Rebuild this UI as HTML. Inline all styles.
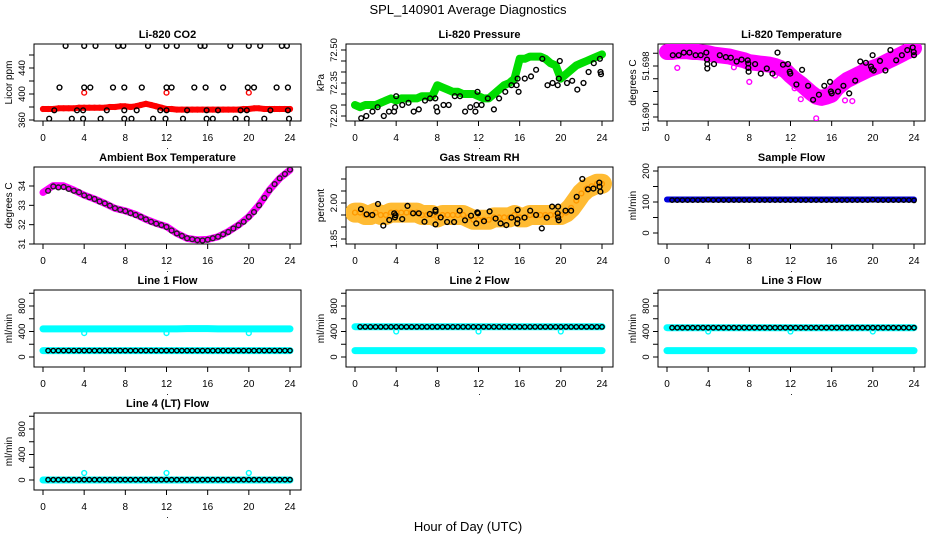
<!DOCTYPE html>
<html><head><meta charset="utf-8"><style>
html,body{margin:0;padding:0;background:#fff;}
svg{display:block;font-family:"Liberation Sans",sans-serif;}
</style></head><body>
<svg id="chart" width="936" height="540" viewBox="0 0 936 540" xmlns="http://www.w3.org/2000/svg">
<text x="468" y="14" text-anchor="middle" font-size="13">SPL_140901  Average Diagnostics</text>
<text x="468" y="531" text-anchor="middle" font-size="13">Hour of Day (UTC)</text>
</svg>
<script>
// ---- data ----
const halfHours = [0,0.5,1,1.5,2,2.5,3,3.5,4,4.5,5,5.5,6,6.5,7,7.5,8,8.5,9,9.5,10,10.5,11,11.5,12,12.5,13,13.5,14,14.5,15,15.5,16,16.5,17,17.5,18,18.5,19,19.5,20,20.5,21,21.5,22,22.5,23,23.5,24];
const xTicks = [0,4,8,12,16,20,24];

const co2Red = [377,377,377,378,378,378,378,379,379,379,379,379,379,380,380,381,381,380,381,383,385,383,381,379,377,377,376,376,376,376,376,376,376,376,376,376,376,376,376,377,377,378,378,377,377,377,377,377,377];
const co2OutT = [4,12,20];
const co2OutV = [402,402,402];
const co2BlackT = [2.2,4,5.1,7.3,7.8,10.2,12,13,15.3,15.7,18.2,20,21.1,23.2,23.7, 1.6,4,4.6,6.8,7.9,9.6,12,12.5,14.7,15.8,17.5,19.9,20.5,22.7,23.8, 1.1,3.3,3.9,6.2,7.9,9.1,11.4,12,14,15.9,17,19.2,19.8,22.1,23.8, 0.6,2.8,3.9,5.6,7.9,8.6,10.7,11.9,13.6,15.9,16.5,18.7,19.8,21.5,23.9];
const co2BlackV = [474,474,474,474,474,474,474,474,474,474,474,474,474,474,474, 410,410,410,410,410,410,410,410,410,410,410,410,410,410,410, 375,375,375,375,375,375,375,375,375,375,375,375,375,375,375, 362,362,362,362,362,362,362,362,362,362,362,362,362,362,362];

const presGreen = [72.25,72.24,72.25,72.25,72.25,72.26,72.27,72.28,72.27,72.28,72.28,72.28,72.28,72.29,72.29,72.29,72.34,72.33,72.32,72.31,72.31,72.30,72.30,72.30,72.29,72.28,72.28,72.30,72.32,72.34,72.35,72.37,72.46,72.46,72.47,72.47,72.47,72.46,72.44,72.43,72.37,72.39,72.41,72.43,72.44,72.45,72.46,72.47,72.48];
const presBlackT = [0.6,1.1,1.7,2.2,2.8,3.3,3.8,3.9,4,4.6,5.2,5.7,6.2,6.8,7.3,7.8,7.9,8,8.6,9.1,9.7,10.2,10.7,11.2,11.7,11.8,11.9,12.3,12.9,13.5,14,14.6,15.2,15.7,15.8,15.9,16.5,17.1,17.6,18.2,18.7,19.2,19.7,19.8,19.9,20.6,21.1,21.6,22.2,22.7,23.2,23.8,23.85,23.9];
const presBlackV = [72.19,72.20,72.22,72.24,72.20,72.22,72.22,72.24,72.29,72.25,72.26,72.22,72.23,72.27,72.28,72.28,72.24,72.22,72.25,72.25,72.29,72.29,72.22,72.24,72.22,72.25,72.31,72.25,72.28,72.23,72.28,72.31,72.34,72.34,72.37,72.31,72.37,72.38,72.41,72.46,72.34,72.35,72.34,72.37,72.45,72.35,72.36,72.32,72.35,72.40,72.44,72.46,72.40,72.39];

const tempPink = [51.7002,51.7002,51.7003,51.7003,51.7003,51.7002,51.7002,51.7001,51.7000,51.6998,51.6997,51.6996,51.6995,51.6993,51.6991,51.6989,51.6986,51.6985,51.6984,51.6983,51.6982,51.6980,51.6977,51.6973,51.6965,51.6958,51.6952,51.6945,51.6938,51.6932,51.6930,51.6932,51.6935,51.6945,51.6952,51.6958,51.6962,51.6966,51.6970,51.6974,51.6977,51.6980,51.6984,51.6988,51.6992,51.6996,51.7000,51.7004,51.7008];
const tempPinkOutT = [1.0,8.0,12.4,13.0,14.5,17.3,18.0,10.5,6.5];
const tempPinkOutV = [51.6977,51.6955,51.6945,51.6928,51.6898,51.6926,51.6925,51.6965,51.6978];
const tempBlackT = [0.56,1.14,1.63,2.19,2.78,3.27,3.82,3.89,3.92,3.92,4.57,5.13,5.71,6.20,6.76,7.25,7.84,7.90,7.90,7.93,8.56,9.11,9.70,10.25,10.74,11.27,11.76,11.92,11.98,12.57,13.13,13.71,14.20,14.76,15.28,15.84,15.93,16.0,16.62,17.14,17.70,18.29,18.78,19.33,19.82,19.92,19.98,20.08,20.70,21.22,21.71,22.27,22.82,23.35,23.87,23.97,24.0];
const tempBlackV = [51.6997,51.6997,51.7001,51.7001,51.6997,51.6997,51.7001,51.6990,51.6983,51.6976,51.6983,51.6997,51.6994,51.6993,51.6987,51.6990,51.6989,51.6984,51.6977,51.6971,51.6983,51.6968,51.6976,51.6968,51.7001,51.6982,51.6983,51.6971,51.6968,51.6951,51.6974,51.6949,51.6927,51.6935,51.6949,51.6955,51.6940,51.6937,51.6940,51.6949,51.6937,51.6957,51.6987,51.6985,51.6979,51.6975,51.6997,51.6973,51.6988,51.6973,51.7005,51.6989,51.6997,51.7005,51.7009,51.7002,51.6997];

const hourly = [0,1,2,3,4,5,6,7,8,9,10,11,12,13,14,15,16,17,18,19,20,21,22,23,24];
const ambPink = [33.67,34.02,34.01,33.79,33.53,33.33,33.10,32.84,32.71,32.53,32.28,32.07,31.90,31.55,31.29,31.21,31.24,31.38,31.64,31.98,32.41,33.02,33.79,34.40,34.83];
const ambBlack = [33.75,33.98,33.93,33.95,33.85,33.75,33.68,33.52,33.42,33.33,33.2,33.1,32.98,32.85,32.77,32.7,32.6,32.5,32.4,32.28,32.15,32.05,31.98,31.88,31.7,31.55,31.42,31.3,31.25,31.2,31.18,31.22,31.3,31.38,31.5,31.62,31.8,31.97,32.15,32.4,32.65,33.0,33.38,33.78,34.1,34.4,34.62,34.85];

const rhOrange = [1.96,1.96,1.95,1.95,1.96,1.95,1.95,1.96,1.96,1.96,1.96,1.96,1.96,1.95,1.95,1.95,1.94,1.95,1.95,1.95,1.95,1.95,1.94,1.93,1.93,1.93,1.93,1.94,1.94,1.94,1.94,1.95,1.94,1.94,1.95,1.95,1.95,1.95,1.95,1.95,1.95,1.96,1.98,2.01,2.04,2.06,2.07,2.08,2.08];
const rhBlackT = [0.58,1.13,1.68,2.23,2.75,3.33,3.81,3.88,3.94,4.59,5.10,5.65,6.20,6.75,7.27,7.82,7.82,7.82,8.33,8.95,9.63,10.17,10.69,11.27,11.79,11.88,11.95,12.53,13.08,13.66,14.15,14.70,15.21,15.76,15.80,15.80,16.47,17.02,17.60,18.15,18.64,19.15,19.70,19.73,19.79,19.73,20.45,21.00,21.54,22.09,22.64,23.16,23.74,23.77,23.84];
const rhBlackV = [1.974,1.953,1.950,1.996,1.906,1.929,1.957,1.940,1.949,1.933,1.988,1.957,1.957,1.922,1.954,1.911,1.964,1.971,1.940,1.921,1.921,1.968,1.928,1.947,1.915,1.961,1.957,1.924,1.965,1.935,1.915,1.908,1.939,1.915,1.932,1.971,1.939,1.968,1.950,1.894,1.939,1.985,1.957,1.940,1.928,1.985,1.968,1.968,2.026,2.100,2.057,2.060,2.085,2.068,2.047];

const sampleBlue = [108,108,108,108,108,108,108,108,108,108,108,108,108,108,108,108,108,108,108,108,108,108,108,108,108];
const sampleBlack = [106,106,106,106,106,106,106,107,106,106,106,106,106,106,106,106,106,106,106,106,106,106,106,106,106,106,106,106,106,106,106,106,106,106,106,106,106,106,106,107,106,106,106,106,106,106,106,105];

const line1CyanHi = [440,440,440,440,440,440,440,440,440,440,440,440,440,440,445,445,445,440,440,440,440,440,440,440,440];
const line1CyanLo = [100,100,100,100,100,100,100,100,100,100,100,100,100,100,100,100,100,100,100,100,100,100,100,100,100];
const line1Black = [100,100,100,100,100,100,100,100,100,100,100,100,100,100,100,100,100,100,100,100,100,100,100,100,100,100,100,100,100,100,100,100,100,100,100,100,100,100,100,100,100,100,100,100,100,100,100,100];
const line1OutV = [375,375,375];

const line2CyanHi = [475,475,475,475,475,475,475,475,475,475,475,475,475,475,475,475,475,475,475,475,475,475,475,475,475];
const line2CyanLo = [100,100,100,100,100,100,100,100,100,100,100,100,100,100,100,100,100,100,100,100,100,100,100,100,100];
const line2Black = [472,472,472,472,472,472,472,472,472,472,472,472,472,472,472,472,472,472,472,472,472,472,472,472,472,472,472,472,472,472,472,472,472,472,472,472,472,472,472,472,472,472,472,472,472,472,472,472];
const line2OutV = [400,400,400];

const line3CyanHi = [460,460,460,460,460,460,460,460,460,460,460,460,460,460,460,460,460,460,460,460,460,460,460,460,460];
const line3CyanLo = [100,100,100,100,100,100,100,100,100,100,100,100,100,100,100,100,100,100,100,100,100,100,100,100,100];
const line3Black = [460,460,460,460,460,460,460,460,460,460,460,460,460,460,460,460,460,460,460,460,460,460,460,460,460,460,460,460,460,460,460,460,460,460,460,460,460,460,460,460,460,460,460,460,460,460,460,460];
const line3OutV = [400,400,400];

const line4Cyan = [0,0,0,0,0,0,0,0,0,0,0,0,0,0,0,0,0,0,0,0,0,0,0,0,0];
const line4Black = [5,5,5,5,5,5,5,5,5,5,5,5,5,5,5,5,5,5,5,5,5,5,5,5,5,5,5,5,5,5,5,5,5,5,5,5,5,5,5,5,5,5,5,5,5,5,5,5];
const line4OutV = [110,110,110];

const blackHalfT = [0.5,1,1.5,2,2.5,3,3.5,4,4.5,5,5.5,6,6.5,7,7.5,8,8.5,9,9.5,10,10.5,11,11.5,12,12.5,13,13.5,14,14.5,15,15.5,16,16.5,17,17.5,18,18.5,19,19.5,20,20.5,21,21.5,22,22.5,23,23.5,24];

// ---- drawing ----
const NS = "http://www.w3.org/2000/svg";
const svg = document.getElementById('chart');
const colX = [34,346,658], rowY = [44,167,290,413], W = 267, H = 77;
function mk(tag, attrs, parent){ const e = document.createElementNS(NS, tag); for (const k in attrs) e.setAttribute(k, attrs[k]); (parent||svg).appendChild(e); return e; }

function panel(cfg){
  const g = mk('g', {});
  
  
  const x0 = colX[cfg.col], y0 = rowY[cfg.row];
  const xs = t => x0 + 9 + t / 24 * 247;
  const [v1, p1, v2, p2] = cfg.yref;
  const ys = v => y0 + p1 + (v - v1) / (v2 - v1) * (p2 - p1);
  const t = mk('text', {x: x0 + W/2, y: y0 - 6, 'text-anchor': 'middle', 'font-size': 11, 'font-weight': 'bold'}, g);
  t.textContent = cfg.title;
  
  
  const box = mk('rect', {x: x0, y: y0, width: W, height: H, fill: 'none', stroke: '#000', 'stroke-width': 1}, g);
  
  
  const xa = mk('g', {}, g);
  
  
  mk('line', {x1: xs(0), x2: xs(24), y1: y0+H, y2: y0+H, stroke: '#000'}, xa);
  xTicks.forEach(v => {
    mk('line', {x1: xs(v), x2: xs(v), y1: y0+H, y2: y0+H+5, stroke: '#000'}, xa);
    const l = mk('text', {x: xs(v), y: y0+H+20, 'text-anchor': 'middle', 'font-size': 10}, xa);
    l.textContent = v;
    
    
  });
  const dot = mk('text', {x: x0 + W/2, y: y0+H+28, 'text-anchor': 'middle', 'font-size': 9}, xa);
  dot.textContent = '.';
  const ya = mk('g', {}, g);
  
  
  mk('line', {x1: x0, x2: x0, y1: ys(cfg.yticks[0]), y2: ys(cfg.yticks[cfg.yticks.length-1]), stroke: '#000'}, ya);
  cfg.yticks.forEach(v => mk('line', {x1: x0-5, x2: x0, y1: ys(v), y2: ys(v), stroke: '#000'}, ya));
  cfg.ylabels.forEach(v => {
    const yy = ys(v);
    const l = mk('text', {x: 0, y: 0, transform: `translate(${x0-9},${yy}) rotate(-90)`, 'text-anchor': 'middle', 'font-size': 9.5}, ya);
    l.textContent = cfg.fmt ? cfg.fmt(v) : v;
    
    
  });
  const yl = mk('text', {x: 0, y: 0, transform: `translate(${x0-22},${y0+H/2}) rotate(-90)`, 'text-anchor': 'middle', 'font-size': 10}, g);
  yl.textContent = cfg.ylab;
  
  
  const clip = 'clip-' + cfg.id;
  const cp = mk('clipPath', {id: clip}, g);
  mk('rect', {x: x0, y: y0, width: W, height: H}, cp);
  const plot = mk('g', {'clip-path': `url(#${clip})`}, g);
  cfg.series.forEach(s => {
    const sg = mk('g', {}, plot);
    
    
    if (s.band) {
      const pts = s.t.map((tt, i) => xs(tt).toFixed(1) + ',' + ys(s.v[i]).toFixed(1)).join(' ');
      const pl = mk('polyline', {points: pts, fill: 'none', stroke: s.bandColor || s.color, 'stroke-width': s.band, 'stroke-linejoin': 'round', 'stroke-linecap': 'round'}, sg);
      
      
    }
    if (s.noPts) return;
    s.t.forEach((tt, i) => {
      const c = mk('circle', {cx: xs(tt).toFixed(1), cy: ys(s.v[i]).toFixed(1), r: s.r || 2.4, fill: 'none', stroke: s.color, 'stroke-width': s.sw || 1.4}, sg);
      
      
    });
  });
}

const flowTicks = [0,200,400,600,800,1000];
panel({id:'co2', col:0,row:0,title:'Li-820 CO2', ylab:'Licor ppm', yref:[360,76,440,24], yticks:[360,380,400,420,440,460], ylabels:[360,400,440],
  series:[{name:'co2-red',t:halfHours,v:co2Red,color:'#f00',band:6},{name:'co2-red-outlier',t:co2OutT,v:co2OutV,color:'#f00'},{name:'co2-black',t:co2BlackT,v:co2BlackV,color:'#000'}]});
panel({id:'pressure', col:1,row:0,title:'Li-820 Pressure', ylab:'kPa', yref:[72.20,72,72.50,6], yticks:[72.20,72.25,72.30,72.35,72.40,72.45,72.50], ylabels:[72.20,72.35,72.50], fmt:v=>v.toFixed(2),
  series:[{name:'pressure-green',t:halfHours,v:presGreen,color:'#0d0',band:8},{name:'pressure-black',t:presBlackT,v:presBlackV,color:'#000'}]});
panel({id:'temperature', col:2,row:0,title:'Li-820 Temperature', ylab:'degrees C', yref:[51.690,73,51.698,22], yticks:[51.690,51.692,51.694,51.696,51.698,51.700], ylabels:[51.690,51.698], fmt:v=>v.toFixed(3),
  series:[{name:'temperature-pink',t:halfHours,v:tempPink,color:'#f0f',band:16},{name:'temperature-pink-scatter',t:tempPinkOutT,v:tempPinkOutV,color:'#f0f'},{name:'temperature-black',t:tempBlackT,v:tempBlackV,color:'#000'}]});
panel({id:'ambient', col:0,row:1,title:'Ambient Box Temperature', ylab:'degrees C', yref:[31,77,34,19], yticks:[31,32,33,34], ylabels:[31,32,33,34],
  series:[{name:'ambient-pink',t:hourly,v:ambPink,color:'#f0f',band:7,noPts:true},{name:'ambient-black',t:blackHalfT,v:ambBlack,color:'#222'}]});
panel({id:'rh', col:1,row:1,title:'Gas Stream RH', ylab:'percent', yref:[1.85,72,2.00,36], yticks:[1.85,1.90,1.95,2.00,2.05,2.10], ylabels:[1.85,2.00], fmt:v=>v.toFixed(2),
  series:[{name:'rh-orange',t:halfHours,v:rhOrange,color:'#f90',bandColor:'#fb3',band:20},{name:'rh-black',t:rhBlackT,v:rhBlackV,color:'#000'}]});
panel({id:'sample-flow', col:2,row:1,title:'Sample Flow', ylab:'ml/min', yref:[0,66,200,4], yticks:[0,50,100,150,200], ylabels:[0,100,200],
  series:[{name:'sample-blue',t:hourly,v:sampleBlue,color:'#00d',band:6,noPts:true},{name:'sample-black',t:blackHalfT,v:sampleBlack,color:'#000',r:2.2}]});
panel({id:'line1', col:0,row:2,title:'Line 1 Flow', ylab:'ml/min', yref:[0,67,800,16], yticks:flowTicks, ylabels:[0,400,800],
  series:[{name:'line1-cyan-high',t:hourly,v:line1CyanHi,color:'#0ff',band:7,noPts:true},{name:'line1-cyan-low',t:hourly,v:line1CyanLo,color:'#0ff',band:7,noPts:true},{name:'line1-outlier',t:co2OutT,v:line1OutV,color:'#0ff'},{name:'line1-black',t:blackHalfT,v:line1Black,color:'#000',r:2.2}]});
panel({id:'line2', col:1,row:2,title:'Line 2 Flow', ylab:'ml/min', yref:[0,67,800,16], yticks:flowTicks, ylabels:[0,400,800],
  series:[{name:'line2-cyan-high',t:hourly,v:line2CyanHi,color:'#0ff',band:7,noPts:true},{name:'line2-cyan-low',t:hourly,v:line2CyanLo,color:'#0ff',band:7,noPts:true},{name:'line2-outlier',t:co2OutT,v:line2OutV,color:'#0ff'},{name:'line2-black',t:blackHalfT,v:line2Black,color:'#000',r:2.2}]});
panel({id:'line3', col:2,row:2,title:'Line 3 Flow', ylab:'ml/min', yref:[0,67,800,16], yticks:flowTicks, ylabels:[0,400,800],
  series:[{name:'line3-cyan-high',t:hourly,v:line3CyanHi,color:'#0ff',band:7,noPts:true},{name:'line3-cyan-low',t:hourly,v:line3CyanLo,color:'#0ff',band:7,noPts:true},{name:'line3-outlier',t:co2OutT,v:line3OutV,color:'#0ff'},{name:'line3-black',t:blackHalfT,v:line3Black,color:'#000',r:2.2}]});
panel({id:'line4', col:0,row:3,title:'Line 4 (LT) Flow', ylab:'ml/min', yref:[0,67,800,16], yticks:flowTicks, ylabels:[0,400,800],
  series:[{name:'line4-cyan',t:hourly,v:line4Cyan,color:'#0ff',band:7,noPts:true},{name:'line4-outlier',t:co2OutT,v:line4OutV,color:'#0ff'},{name:'line4-black',t:blackHalfT,v:line4Black,color:'#000',r:2.2}]});
</script>
</body></html>
